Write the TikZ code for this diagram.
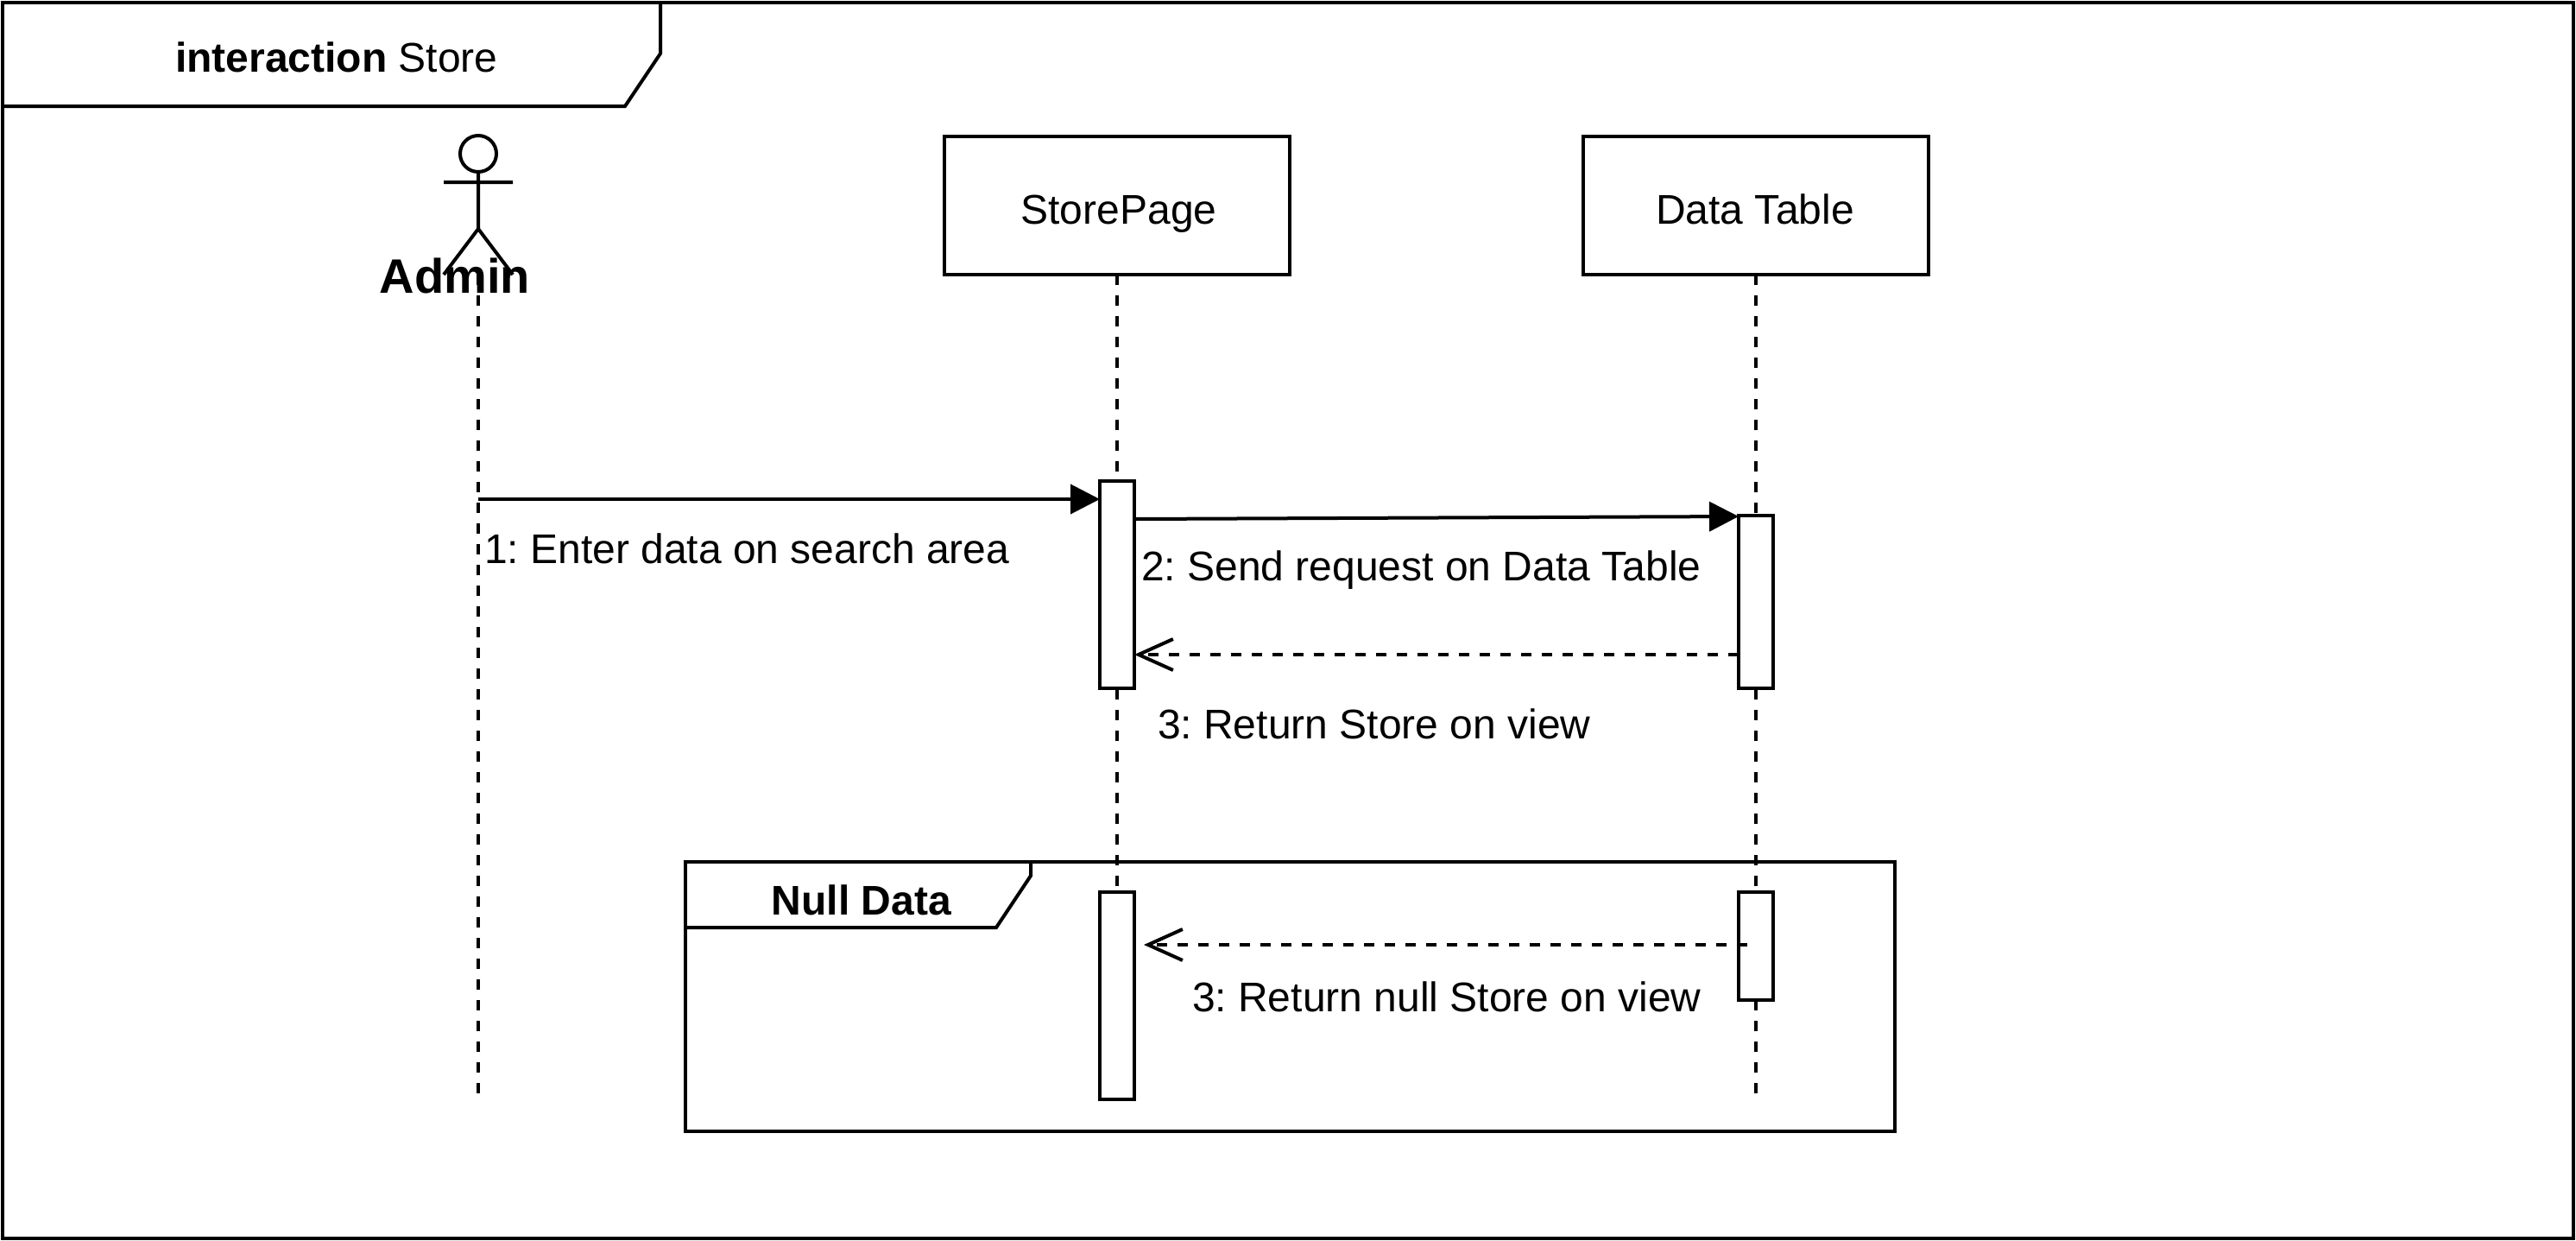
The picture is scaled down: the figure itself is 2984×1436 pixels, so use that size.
\documentclass[tikz,border=0pt]{standalone}
\usepackage{fontspec}
\setmainfont{Liberation Sans}
\usetikzlibrary{arrows.meta}
\tikzset{
  px/.style={x=0.5pt,y=-0.5pt},
  lw/.style={line width=2pt,draw=black},
  lifebox/.style={lw,fill=white,rectangle,inner sep=0pt,outer sep=0pt,minimum width=200pt,minimum height=80pt},
  actbox/.style={lw,fill=white,rectangle,inner sep=0pt,outer sep=0pt,minimum width=20pt},
  lifeline/.style={line width=2pt,dash pattern=on 6pt off 6pt},
  msg/.style={line width=2pt,-{Triangle[length=17pt,width=17pt]}},
  reply/.style={line width=2pt,dash pattern=on 6pt off 6pt,-{Straight Barb[length=20pt,width=18pt]}},
  lbl/.style={inner sep=0pt,outer sep=0pt,anchor=base west,font=\fontsize{24}{28}\selectfont},
  lblb/.style={inner sep=0pt,outer sep=0pt,anchor=base,font=\fontsize{24}{28}\selectfont\bfseries},
  frameline/.style={line width=2pt,line join=miter}
}
\begin{document}
\frenchspacing
\begin{tikzpicture}[px]
\useasboundingbox (0,0) rectangle (2984,1436);
\fill[white] (0,0) rectangle (2984,1436);
% outer frame
\draw[frameline] (3,3) rectangle (2981,1434);
\draw[frameline] (3,123) -- (724,123) -- (765,62) -- (765,3);
\node[lblb,anchor=base west] (title) at (203,83) {interaction \mdseries Store};
% actor
\coordinate (adminTop) at (554,318);
\coordinate (adminEnd) at (554,1267);
\draw[lifeline] (adminTop) -- (adminEnd);
\draw[line width=2pt] (554,178) ellipse [x radius=21,y radius=21];
\draw[line width=2pt] (554,199) -- (554,265) (514,211) -- (594,211) (514,318) -- (554,265) -- (594,318);
\node[inner sep=0pt,outer sep=0pt,anchor=base,font=\fontsize{28}{32}\selectfont\bfseries] (admin) at (527,339) {Admin};
% lifelines
\node[lifebox] (store) at (1294,238) {};
\node[lifebox] (data) at (2034,238) {};
\node[inner sep=0pt,anchor=base,font=\fontsize{24}{28}\selectfont] (storeT) at (1296,259) {StorePage};
\node[inner sep=0pt,anchor=base,font=\fontsize{24}{28}\selectfont] (dataT) at (2033,259) {Data Table};
\coordinate (storeEnd) at (1294,1270);
\coordinate (dataEnd) at (2034,1267);
\draw[lifeline] (store.south) -- (storeEnd);
\draw[lifeline] (data.south) -- (dataEnd);
% activations
\node[actbox,minimum height=120pt] (a1) at (1294,677) {};
\node[actbox,minimum height=100pt] (a2) at (2034,697) {};
\node[actbox,minimum height=120pt] (a3) at (1294,1153) {};
\node[actbox,minimum height=62.5pt] (a4) at (2034,1095) {};
% frame null data
\draw[frameline] (794,998) rectangle (2195,1310);
\draw[frameline] (794,1074) -- (1154,1074) -- (1194,1014) -- (1194,998);
\node[lblb] (nulll) at (998,1059) {Null Data};
% messages
\coordinate (m1s) at (554,578);
\draw[msg] (m1s) -- (a1.west |- m1s);
\coordinate (m2s) at (1314,601);
\coordinate (m2e) at (2014,598);
\draw[msg] (a1.east |- m2s) -- (a2.west |- m2e);
\coordinate (m3) at (2014,758);
\draw[reply] (a2.west |- m3) -- (a1.east |- m3);
\coordinate (m4s) at (2024,1094);
\coordinate (m4e) at (1325,1094);
\draw[reply] (m4s) -- (m4e);
% labels
\node[lbl] (l1) at (561,652) {1: Enter data on search area};
\node[lbl] (l2) at (1322,672) {2: Send request on Data Table};
\node[lbl] (l3) at (1341,855) {3: Return Store on view};
\node[lbl] (l4) at (1381,1171) {3: Return null Store on view};
\end{tikzpicture}
\end{document}
